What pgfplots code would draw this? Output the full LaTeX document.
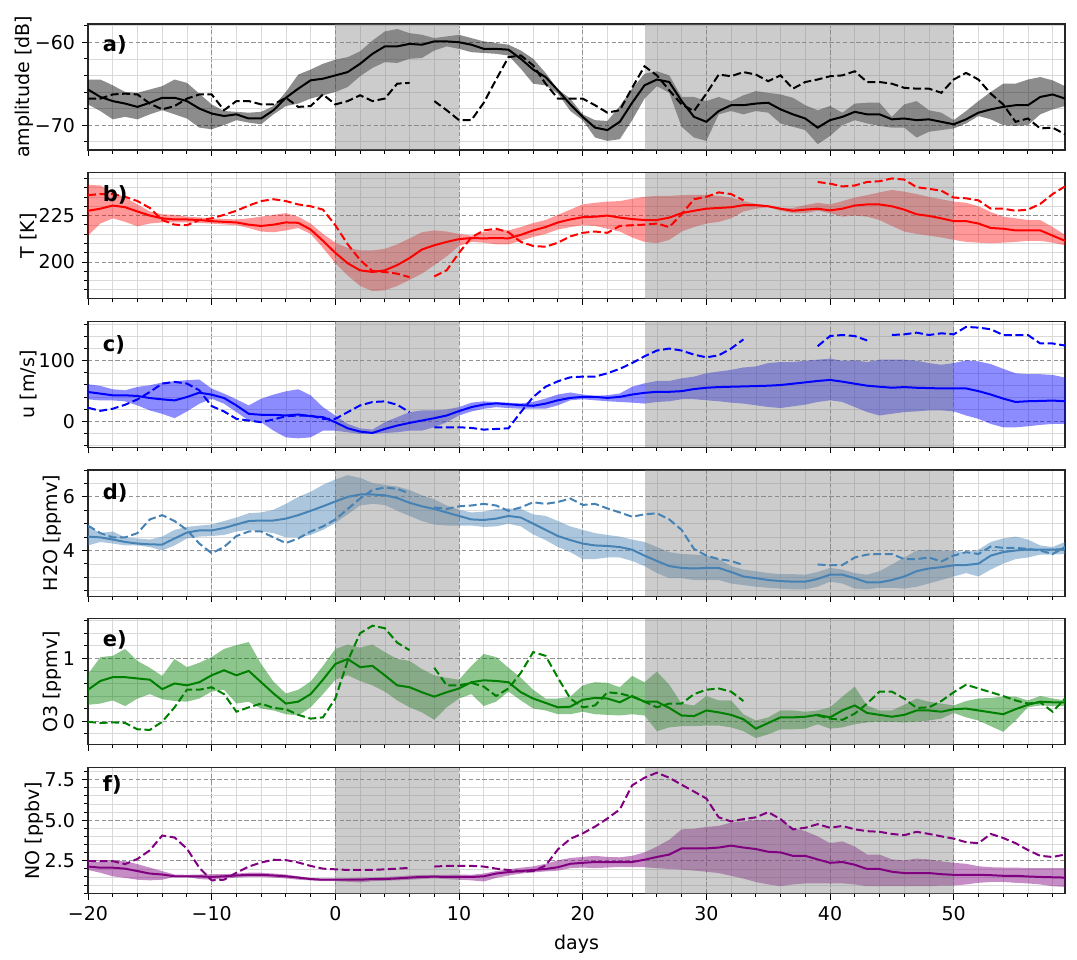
\documentclass[border=0pt]{standalone}
\usepackage{fontspec}
\setmainfont{DejaVu Sans}
\usepackage{pgfplots}
\usepackage{pgfplotstable}
\pgfplotsset{compat=1.18}
\usepgfplotslibrary{fillbetween}

% columns: day, mean, lower, upper, reference (dashed)
\pgfplotstableread{
x mid lo hi dash
-20 -65.7 -67.5 -64.5 -66.8
-19 -66.6 -68.3 -64.5 -66.8
-18 -67.1 -69.3 -65.2 -66.3
-17 -67.4 -69.0 -66.0 -66.2
-16 -67.8 -69.3 -66.1 -66.3
-15 -67.3 -68.7 -65.7 -67.4
-14 -66.7 -68.2 -65.3 -68.1
-13 -66.7 -68.7 -64.5 -67.7
-12 -67.1 -69.2 -64.9 -66.8
-11 -68.0 -70.3 -66.2 -66.3
-10 -68.6 -70.5 -67.5 -66.3
-9 -68.9 -70.0 -68.3 -68.2
-8 -68.7 -69.4 -68.4 -67.1
-7 -69.2 -69.7 -68.5 -67.1
-6 -69.2 -69.9 -68.4 -67.5
-5 -68.2 -68.7 -67.7 -67.5
-4 -66.7 -67.7 -66.0 -66.7
-3 -65.6 -67.4 -63.9 -67.8
-2 -64.6 -66.8 -63.3 -67.7
-1 -64.4 -66.4 -62.6 -66.3
0 -64.0 -66.0 -62.1 -67.5
1 -63.6 -65.4 -61.8 -67.1
2 -62.6 -64.1 -61.1 -66.4
3 -61.4 -63.1 -59.8 -67.1
4 -60.5 -62.4 -58.7 -66.8
5 -60.5 -62.5 -58.4 -65.0
6 -60.2 -62.0 -58.9 -64.9
7 -60.3 -61.9 -59.1 nan
8 -59.9 -61.0 -59.5 -67.1
9 -59.9 -60.5 -59.3 -68.2
10 -60.0 -60.8 -59.1 -69.4
11 -60.3 -61.2 -59.5 -69.4
12 -60.8 -61.3 -59.9 -67.3
13 -60.8 -61.4 -60.1 -64.5
14 -60.9 -61.6 -60.3 -61.8
15 -62.0 -63.2 -61.0 -61.6
16 -63.3 -65.0 -62.0 -62.8
17 -64.2 -65.2 -63.7 -65.0
18 -65.8 -66.2 -65.7 -66.8
19 -67.5 -68.3 -66.8 -66.8
20 -69.0 -69.4 -68.7 -66.8
21 -70.3 -71.5 -69.4 -67.6
22 -70.6 -71.9 -69.5 -68.5
23 -69.6 -71.7 -67.7 -68.2
24 -67.3 -69.4 -65.6 -65.5
25 -65.2 -66.8 -63.8 -62.9
26 -64.5 -65.3 -63.5 -64.0
27 -64.8 -66.1 -64.0 -65.8
28 -67.1 -70.2 -66.6 -67.5
29 -69.0 -71.5 -66.6 -68.3
30 -69.6 -71.9 -67.1 -66.2
31 -68.3 -68.7 -66.6 -63.9
32 -67.6 -68.3 -67.1 -64.1
33 -67.6 -68.7 -66.4 -63.6
34 -67.4 -68.3 -65.9 -63.9
35 -67.3 -68.5 -66.1 -64.7
36 -68.1 -69.8 -66.3 -64.0
37 -68.7 -70.2 -66.7 -65.6
38 -69.2 -70.6 -67.6 -64.8
39 -70.3 -72.3 -68.2 -64.5
40 -69.4 -71.3 -67.7 -64.1
41 -69.0 -70.0 -68.5 -64.0
42 -68.4 -69.4 -67.4 -63.5
43 -68.7 -69.8 -67.3 -64.8
44 -68.7 -70.1 -67.3 -64.8
45 -69.3 -70.3 -69.0 -65.0
46 -69.2 -70.3 -67.5 -65.5
47 -69.4 -71.5 -67.1 -65.6
48 -69.3 -70.8 -68.2 -65.6
49 -69.6 -70.6 -68.5 -66.1
50 -69.9 -70.4 -69.4 -64.5
51 -69.3 -69.8 -68.3 -63.7
52 -68.5 -68.9 -67.1 -64.5
53 -68.1 -69.3 -66.0 -66.2
54 -67.8 -70.0 -65.0 -67.5
55 -67.6 -70.1 -65.0 -69.6
56 -67.6 -70.0 -64.5 -69.2
57 -66.6 -68.7 -64.2 -70.4
58 -66.3 -68.1 -64.6 -70.3
59 -66.8 -67.7 -65.3 -71.1
}\tabA

\pgfplotstableread{
x mid lo hi dash
-20 227.6 214.2 241.6 236.0
-19 228.7 220.7 241.2 236.6
-18 230.4 223.5 237.5 236.6
-17 229.5 221.6 234.7 235.1
-16 227.2 219.2 231.0 232.8
-15 225.0 220.7 227.2 229.1
-14 223.5 221.3 225.7 222.6
-13 222.9 221.3 225.4 220.1
-12 222.9 221.3 224.4 219.8
-11 222.6 221.0 224.0 222.6
-10 222.0 220.7 223.5 223.5
-9 221.6 220.2 223.2 225.4
-8 221.3 219.8 222.9 227.6
-7 220.1 218.3 223.5 230.4
-6 219.4 216.4 224.4 232.8
-5 220.1 216.0 225.4 233.8
-4 221.3 217.0 226.3 232.8
-3 221.1 218.3 224.4 231.0
-2 217.5 215.1 220.7 230.0
-1 211.4 207.6 215.1 228.2
0 204.9 199.3 210.4 219.8
1 199.3 192.7 207.6 209.5
2 195.5 187.1 206.3 201.1
3 194.6 184.3 206.2 195.1
4 195.5 184.7 207.1 194.6
5 198.3 187.1 209.5 193.7
6 202.1 190.3 212.7 191.8
7 206.7 193.7 216.0 nan
8 209.0 198.3 217.0 192.2
9 210.8 203.0 216.4 195.5
10 212.3 208.6 215.1 204.9
11 212.9 210.8 214.2 213.2
12 212.7 210.4 216.0 217.0
13 212.9 209.5 217.5 217.9
14 212.7 209.5 217.0 216.0
15 214.6 211.4 218.8 210.8
16 217.0 213.5 221.0 208.6
17 218.8 215.1 222.6 208.2
18 221.3 217.5 225.4 210.4
19 222.9 218.8 228.2 213.8
20 224.1 219.8 231.0 215.7
21 224.4 219.4 231.9 216.4
22 225.0 217.9 232.5 215.7
23 223.9 216.4 232.8 219.4
24 223.1 213.2 234.1 219.8
25 222.6 210.8 235.1 220.1
26 222.6 210.1 235.6 220.7
27 223.9 211.9 235.6 218.8
28 226.3 216.4 236.0 225.7
29 227.6 218.8 236.2 233.8
30 228.7 220.7 236.2 235.1
31 229.1 221.6 235.6 237.5
32 229.5 223.5 234.7 236.6
33 230.6 227.2 232.8 233.2
34 230.6 228.7 231.3 nan
35 230.0 229.5 230.6 nan
36 228.7 227.6 229.1 nan
37 227.6 226.3 229.1 nan
38 228.2 226.3 230.6 nan
39 228.7 227.6 231.9 243.1
40 227.8 226.3 231.0 242.2
41 228.7 224.4 232.8 240.7
42 230.4 225.0 234.7 241.2
43 231.0 224.4 236.0 243.1
44 231.0 222.6 237.5 243.5
45 230.0 219.4 238.8 245.0
46 228.2 216.4 237.9 244.4
47 225.7 215.1 236.6 240.3
48 224.8 214.2 235.1 239.4
49 223.5 213.2 233.8 238.4
50 222.0 211.9 232.5 234.7
51 222.0 210.8 231.9 234.3
52 220.7 210.4 230.0 233.2
53 218.3 210.1 226.9 228.7
54 217.9 210.4 224.4 228.7
55 217.0 210.8 223.5 227.6
56 217.0 211.4 222.6 228.2
57 217.0 211.4 222.6 231.3
58 214.2 210.4 218.8 236.6
59 211.4 209.0 214.6 240.7
}\tabB

\pgfplotstableread{
x mid lo hi dash
-20 48.3 36.1 61.1 22.2
-19 45.6 34.4 58.3 17.2
-18 42.8 34.4 52.8 20.6
-17 42.8 32.8 51.1 27.2
-16 41.7 26.1 56.7 36.1
-15 38.3 17.8 59.4 48.3
-14 36.1 12.2 63.9 62.2
-13 34.4 5.0 66.1 65.0
-12 40.0 16.1 67.8 62.2
-11 47.2 28.9 68.9 51.1
-10 43.9 37.2 53.9 25.0
-9 38.3 28.9 45.6 16.1
-8 26.1 15.0 36.1 3.9
-7 12.2 1.1 26.1 1.1
-6 10.6 -1.7 37.2 -1.7
-5 10.6 -15.6 43.9 2.8
-4 9.4 -26.7 49.4 8.3
-3 11.1 -28.3 52.8 9.4
-2 8.3 -26.7 42.8 9.4
-1 6.7 -15.6 23.3 3.9
0 -1.7 -15.6 9.4 3.9
1 -11.7 -18.3 -4.4 15.0
2 -17.2 -21.1 -11.7 26.1
3 -19.4 -21.1 -13.9 31.7
4 -12.8 -19.4 -1.7 32.8
5 -7.2 -18.3 6.7 27.2
6 -2.8 -15.6 15.0 15.0
7 1.1 -15.6 17.8 nan
8 5.0 -10.0 17.8 -10.0
9 9.4 -1.7 19.4 -10.0
10 16.7 9.4 23.3 -10.0
11 23.3 16.1 30.6 -11.1
12 27.5 20.6 32.8 -13.9
13 29.5 23.3 31.7 -12.8
14 28.0 21.7 30.6 -11.7
15 26.5 20.6 29.4 15.0
16 25.5 20.7 32.0 40.0
17 29.1 20.7 37.4 57.0
18 34.6 26.3 44.1 66.0
19 38.5 34.6 47.5 72.6
20 40.2 36.3 44.1 73.7
21 40.2 34.6 42.0 73.7
22 38.5 33.0 43.0 79.3
23 40.2 31.8 45.8 86.6
24 44.1 30.7 57.0 96.1
25 46.9 29.1 62.6 107.3
26 48.6 31.8 66.5 116.8
27 48.6 33.0 66.5 120.1
28 49.7 36.3 70.9 116.8
29 53.1 36.3 73.7 110.1
30 55.3 34.6 79.3 105.6
31 56.4 33.0 82.1 108.9
32 57.0 30.7 84.9 120.1
33 57.5 29.1 88.8 135.2
34 58.1 26.3 90.5 nan
35 58.7 23.5 96.1 nan
36 59.8 21.8 97.8 nan
37 62.0 24.6 97.8 nan
38 64.2 27.4 100.0 nan
39 66.5 31.8 101.7 124.0
40 68.2 34.6 103.4 140.8
41 65.4 31.8 100.0 142.5
42 62.0 23.5 100.6 140.8
43 58.7 15.1 97.8 133.5
44 57.0 9.5 101.7 nan
45 55.3 12.3 101.7 142.5
46 56.4 15.1 101.7 143.6
47 55.3 16.2 100.0 146.4
48 54.7 17.9 96.1 142.5
49 54.2 17.9 93.3 145.3
50 54.2 16.2 96.1 143.6
51 54.2 9.5 100.6 155.9
52 49.7 3.9 98.9 154.7
53 44.1 -4.5 94.4 152.0
54 37.4 -10.1 86.6 142.5
55 31.8 -10.1 79.3 142.5
56 33.0 -8.4 77.7 142.5
57 33.5 -6.1 77.7 128.5
58 34.1 -4.5 76.5 128.5
59 33.0 -4.5 72.1 125.1
}\tabC

\pgfplotstableread{
x mid lo hi dash
-20 4.52 4.19 4.90 4.93
-19 4.49 4.32 4.65 4.65
-18 4.41 4.26 4.71 4.49
-17 4.32 4.19 4.49 4.49
-16 4.26 4.19 4.45 4.65
-15 4.23 4.13 4.41 5.16
-14 4.22 4.00 4.52 5.32
-13 4.45 4.19 4.77 5.10
-12 4.67 4.45 4.88 4.77
-11 4.75 4.52 4.93 4.26
-10 4.75 4.54 4.97 3.90
-9 4.84 4.58 5.10 4.13
-8 4.97 4.71 5.23 4.54
-7 5.10 4.77 5.39 4.71
-6 5.12 4.71 5.42 4.71
-5 5.12 4.65 5.52 4.49
-4 5.19 4.49 5.74 4.28
-3 5.32 4.49 6.00 4.45
-2 5.48 4.58 6.19 4.71
-1 5.65 4.77 6.45 4.90
0 5.83 5.03 6.65 5.16
1 6.00 5.35 6.81 5.55
2 6.09 5.68 6.71 5.94
3 6.09 5.74 6.52 6.26
4 6.06 5.70 6.45 6.35
5 5.96 5.48 6.39 6.30
6 5.78 5.29 6.26 6.13
7 5.65 5.10 6.06 nan
8 5.55 4.97 5.91 5.61
9 5.42 4.93 5.68 5.55
10 5.29 4.93 5.52 5.65
11 5.16 4.93 5.42 5.68
12 5.14 4.88 5.45 5.74
13 5.19 4.90 5.55 5.68
14 5.29 5.00 5.57 5.48
15 5.23 4.90 5.55 5.61
16 5.00 4.60 5.35 5.80
17 4.77 4.39 5.29 5.74
18 4.54 4.13 5.10 5.81
19 4.39 3.94 4.90 5.94
20 4.26 3.68 4.77 5.70
21 4.19 3.68 4.65 5.74
22 4.17 3.74 4.58 5.57
23 4.13 3.74 4.52 5.42
24 4.03 3.61 4.41 5.26
25 3.81 3.42 4.32 5.35
26 3.61 3.16 4.13 5.39
27 3.42 2.97 3.94 5.16
28 3.35 2.97 3.87 4.77
29 3.33 2.90 3.85 4.06
30 3.35 2.90 3.81 3.81
31 3.35 2.90 3.68 3.68
32 3.20 2.77 3.42 3.61
33 3.03 2.71 3.29 3.46
34 2.97 2.65 3.23 nan
35 2.90 2.61 3.16 nan
36 2.86 2.58 3.12 nan
37 2.84 2.55 3.12 nan
38 2.84 2.55 3.10 nan
39 2.94 2.65 3.20 3.48
40 3.10 2.84 3.35 3.45
41 3.10 2.77 3.29 3.46
42 2.97 2.58 3.16 3.74
43 2.81 2.55 3.10 3.85
44 2.81 2.61 3.23 3.87
45 2.90 2.61 3.48 3.87
46 3.03 2.58 3.74 3.68
47 3.23 2.65 4.00 3.68
48 3.33 2.77 4.03 3.74
49 3.38 2.90 4.00 3.59
50 3.45 3.03 4.00 3.81
51 3.46 3.16 3.94 3.94
52 3.51 3.03 4.03 3.87
53 3.81 3.29 4.32 4.15
54 3.94 3.51 4.45 4.10
55 4.00 3.68 4.52 4.10
56 4.04 3.74 4.41 4.06
57 4.03 3.85 4.19 4.00
58 4.03 3.85 4.13 3.87
59 4.06 3.87 4.32 4.13
}\tabD

\pgfplotstableread{
x mid lo hi dash
-20 0.50 0.26 0.75 -0.01
-19 0.64 0.28 1.02 -0.03
-18 0.70 0.33 1.04 -0.02
-17 0.70 0.24 1.15 -0.03
-16 0.68 0.36 0.96 -0.13
-15 0.66 0.43 0.85 -0.14
-14 0.51 0.35 0.72 -0.01
-13 0.60 0.32 0.99 0.22
-12 0.57 0.31 0.86 0.50
-11 0.62 0.36 0.93 0.50
-10 0.73 0.47 1.02 0.54
-9 0.81 0.50 1.15 0.43
-8 0.73 0.28 1.21 0.15
-7 0.80 0.31 1.26 0.22
-6 0.62 0.20 0.91 0.28
-5 0.44 0.17 0.63 0.21
-4 0.28 0.11 0.44 0.19
-3 0.31 0.09 0.50 0.10
-2 0.43 0.22 0.63 0.04
-1 0.66 0.43 0.88 0.06
0 0.91 0.66 1.15 0.36
1 0.99 0.73 1.22 0.96
2 0.86 0.64 1.17 1.40
3 0.88 0.57 1.22 1.52
4 0.73 0.47 1.10 1.48
5 0.57 0.33 0.99 1.25
6 0.54 0.22 0.96 1.13
7 0.46 0.14 0.83 nan
8 0.39 0.02 0.73 0.85
9 0.46 0.22 0.69 0.57
10 0.52 0.36 0.66 0.57
11 0.62 0.43 0.88 0.61
12 0.65 0.24 1.07 0.55
13 0.64 0.31 1.02 0.40
14 0.62 0.47 0.85 0.52
15 0.46 0.33 0.69 0.77
16 0.36 0.20 0.50 1.10
17 0.29 0.17 0.36 1.04
18 0.22 0.11 0.36 0.69
19 0.23 0.11 0.39 0.36
20 0.34 0.15 0.57 0.22
21 0.37 0.11 0.62 0.25
22 0.36 0.10 0.61 0.46
23 0.30 0.09 0.54 0.44
24 0.40 0.11 0.72 0.39
25 0.31 0.09 0.62 0.31
26 0.31 -0.16 0.79 0.22
27 0.21 -0.10 0.58 0.28
28 0.09 -0.08 0.28 0.28
29 0.08 -0.08 0.25 0.43
30 0.17 -0.07 0.40 0.50
31 0.14 -0.07 0.33 0.52
32 0.10 -0.10 0.33 0.47
33 0.03 -0.16 0.11 0.32
34 -0.12 -0.27 0.01 nan
35 -0.03 -0.21 0.06 nan
36 0.06 -0.13 0.17 nan
37 0.06 -0.13 0.17 nan
38 0.07 -0.12 0.15 nan
39 0.10 -0.05 0.17 0.09
40 0.06 -0.12 0.22 0.04
41 0.17 -0.10 0.39 0.02
42 0.25 -0.05 0.55 0.12
43 0.13 -0.02 0.25 0.28
44 0.10 -0.01 0.17 0.47
45 0.07 -0.01 0.17 0.47
46 0.10 -0.02 0.26 0.36
47 0.17 -0.01 0.36 0.21
48 0.17 0.01 0.31 0.22
49 0.15 0.04 0.28 0.32
50 0.19 0.13 0.25 0.46
51 0.20 0.06 0.32 0.58
52 0.17 0.01 0.36 0.52
53 0.14 -0.08 0.37 0.46
54 0.11 -0.17 0.39 0.40
55 0.19 0.01 0.39 0.33
56 0.26 0.22 0.33 0.28
57 0.31 0.25 0.40 0.30
58 0.30 0.24 0.36 0.15
59 0.30 0.24 0.33 0.36
}\tabE

\pgfplotstableread{
x mid lo hi dash
-20 2.14 1.93 2.39 2.48
-19 2.07 1.76 2.44 2.48
-18 2.07 1.54 2.48 2.48
-17 2.01 1.44 2.48 2.29
-16 1.86 1.33 2.29 2.61
-15 1.71 1.29 2.07 3.14
-14 1.65 1.33 1.86 4.05
-13 1.54 1.50 1.65 3.93
-12 1.54 1.50 1.63 3.24
-11 1.54 1.37 1.65 2.07
-10 1.50 1.33 1.67 1.29
-9 1.54 1.41 1.67 1.33
-8 1.59 1.46 1.71 1.76
-7 1.63 1.50 1.76 2.14
-6 1.63 1.50 1.76 2.39
-5 1.59 1.46 1.71 2.56
-4 1.54 1.41 1.65 2.54
-3 1.46 1.33 1.54 2.39
-2 1.37 1.29 1.44 2.18
-1 1.33 1.24 1.39 2.01
0 1.33 1.24 1.39 1.97
1 1.33 1.20 1.41 1.93
2 1.33 1.16 1.46 1.93
3 1.37 1.24 1.46 1.93
4 1.37 1.27 1.50 1.97
5 1.41 1.29 1.54 2.01
6 1.46 1.33 1.59 2.06
7 1.50 1.37 1.63 nan
8 1.52 1.41 1.63 2.14
9 1.50 1.37 1.63 2.18
10 1.50 1.33 1.65 2.18
11 1.50 1.29 1.63 2.18
12 1.54 1.22 1.71 2.14
13 1.71 1.44 1.86 2.01
14 1.80 1.59 1.97 1.93
15 1.86 1.71 2.07 1.84
16 1.93 1.78 2.15 1.86
17 1.99 1.84 2.31 2.20
18 2.10 1.89 2.52 3.20
19 2.31 2.04 2.67 3.85
20 2.37 2.08 2.73 4.18
21 2.42 2.04 2.80 4.60
22 2.42 2.08 2.73 5.10
23 2.42 2.12 2.71 5.66
24 2.42 2.10 2.80 7.14
25 2.56 2.10 3.01 7.61
26 2.73 2.04 3.37 7.92
27 2.88 1.99 3.79 7.61
28 3.26 1.95 4.43 7.18
29 3.26 1.89 4.47 6.76
30 3.26 1.82 4.58 6.33
31 3.31 1.74 4.64 5.17
32 3.43 1.57 4.85 4.92
33 3.31 1.40 4.92 5.06
34 3.22 1.19 5.00 5.17
35 3.05 1.04 5.00 5.49
36 3.01 0.93 5.00 5.06
37 2.80 1.04 4.53 4.43
38 2.80 1.10 4.32 4.53
39 2.58 1.10 4.00 4.75
40 2.37 1.10 3.58 4.53
41 2.42 1.10 3.69 4.64
42 2.25 1.04 3.37 4.43
43 1.99 0.93 2.88 4.32
44 1.99 0.93 2.88 4.28
45 1.82 0.93 2.58 4.15
46 1.74 0.93 2.52 4.07
47 1.74 0.93 2.63 4.28
48 1.74 0.93 2.58 4.15
49 1.67 0.97 2.46 4.00
50 1.63 0.97 2.37 3.86
51 1.63 1.04 2.31 3.64
52 1.63 1.14 2.16 3.58
53 1.61 1.19 2.10 4.15
54 1.57 1.19 2.08 3.90
55 1.57 1.14 2.08 3.58
56 1.53 1.10 2.04 3.16
57 1.50 1.04 2.04 2.80
58 1.48 0.93 2.04 2.73
59 1.46 0.89 2.04 2.88
}\tabF

\definecolor{steel}{rgb}{0.275,0.510,0.706}
\definecolor{mplgreen}{rgb}{0,0.5,0}
\definecolor{mplpurple}{rgb}{0.5,0,0.5}

% one panel: grey event spans, spread band, mean line, dashed reference
% #1 table, #2 colour, #3 band opacity, #4 ymin, #5 ymax, #6 tag
\newcommand{\drawpanel}[6]{%
  \addplot[draw=none, fill=gray, fill opacity=0.4, forget plot]
    coordinates {(0,#4) (10,#4) (10,#5) (0,#5)} -- cycle;
  \addplot[draw=none, fill=gray, fill opacity=0.4, forget plot]
    coordinates {(25,#4) (50,#4) (50,#5) (25,#5)} -- cycle;
  \addplot[name path=hi#6, draw=none, forget plot] table[x=x, y=hi] {#1};
  \addplot[name path=lo#6, draw=none, forget plot] table[x=x, y=lo] {#1};
  \addplot[fill=#2, fill opacity=#3, draw=none, forget plot] fill between[of=hi#6 and lo#6];
  \addplot[#2, line width=1pt, forget plot] table[x=x, y=mid] {#1};
  \addplot[#2, line width=1pt, dash pattern=on 4pt off 1.8pt,
    unbounded coords=jump, forget plot] table[x=x, y=dash] {#1};
}

\tikzset{plabel/.style={anchor=west, font=\bfseries\fontsize{10.5}{12}\selectfont}}

\pgfplotsset{
  panel/.style={
    width=488.5pt, height=63pt, scale only axis,
    xmin=-20, xmax=59,
    xtick={-20,-10,...,50}, minor xtick={-18,-16,...,58},
    xticklabels={},
    grid=both,
    major grid style={gray!85, dash pattern=on 2.2pt off 1.2pt, line width=0.45pt},
    minor grid style={gray!30, line width=0.3pt},
    tick align=outside, xtick pos=bottom, ytick pos=left,
    major tick length=3pt, minor tick length=1.8pt,
    tick style={black, line width=0.45pt},
    axis line style={line width=0.6pt, black!85},
    every tick label/.append style={font=\fontsize{9.5}{11}\selectfont},
    label style={font=\fontsize{9.5}{11}\selectfont},
    ylabel shift=-6pt,
  },
}

\begin{document}
\begin{tikzpicture}
\path (0,0) rectangle (538.5pt,-471.5pt);

% a) amplitude
\begin{axis}[panel, at={(44pt,-12pt)}, anchor=north west,
  ymin=-73, ymax=-57.8, ytick={-70,-60}, yticklabels={−70,−60},
  minor ytick={-72,-68,-66,-64,-62,-58},
  ylabel={amplitude [dB]}]
  \drawpanel{\tabA}{black}{0.45}{-73}{-57.8}{a}
  \node[plabel] at (rel axis cs:0.008,0.83) {a)};
\end{axis}

% b) temperature
\begin{axis}[panel, at={(44pt,-86.35pt)}, anchor=north west,
  ymin=180.2, ymax=248.1, ytick={200,225}, yticklabels={200,225},
  minor ytick={185,190,195,205,210,215,220,230,235,240,245},
  ylabel={T [K]}]
  \drawpanel{\tabB}{red}{0.4}{180.2}{248.1}{b}
  \node[plabel] at (rel axis cs:0.008,0.82) {b)};
\end{axis}

% c) zonal wind
\begin{axis}[panel, at={(44pt,-160.7pt)}, anchor=north west,
  ymin=-43.3, ymax=165, ytick={0,100}, yticklabels={0,100},
  minor ytick={-40,-20,20,40,60,80,120,140,160},
  ylabel={u [m/s]}]
  \drawpanel{\tabC}{blue}{0.45}{-43.3}{165}{c}
  \node[plabel] at (rel axis cs:0.008,0.81) {c)};
\end{axis}

% d) water vapour
\begin{axis}[panel, at={(44pt,-235.05pt)}, anchor=north west,
  ymin=2.3, ymax=7.0, ytick={4,6}, yticklabels={4,6},
  minor ytick={2.5,3,3.5,4.5,5,5.5,6.5,7},
  ylabel={H2O [ppmv]}]
  \drawpanel{\tabD}{steel}{0.45}{2.3}{7.0}{d}
  \node[plabel] at (rel axis cs:0.008,0.82) {d)};
\end{axis}

% e) ozone
\begin{axis}[panel, at={(44pt,-309.4pt)}, anchor=north west,
  ymin=-0.377, ymax=1.63, ytick={0,1}, yticklabels={0,1},
  minor ytick={-0.2,0.2,0.4,0.6,0.8,1.2,1.4,1.6},
  ylabel={O3 [ppmv]}]
  \drawpanel{\tabE}{mplgreen}{0.45}{-0.377}{1.63}{e}
  \node[plabel] at (rel axis cs:0.008,0.83) {e)};
\end{axis}

% f) nitric oxide
\begin{axis}[panel, at={(44pt,-383.75pt)}, anchor=north west,
  ymin=0.48, ymax=8.24, ytick={2.5,5,7.5}, yticklabels={2.5,5.0,7.5},
  minor ytick={0.5,1,1.5,2,3,3.5,4,4.5,5.5,6,6.5,7,8},
  xticklabels={−20,−10,0,10,20,30,40,50},
  xlabel={days}, ylabel={NO [ppbv]}]
  \drawpanel{\tabF}{mplpurple}{0.45}{0.48}{8.24}{f}
  \node[plabel] at (rel axis cs:0.008,0.86) {f)};
\end{axis}
\end{tikzpicture}
\end{document}
